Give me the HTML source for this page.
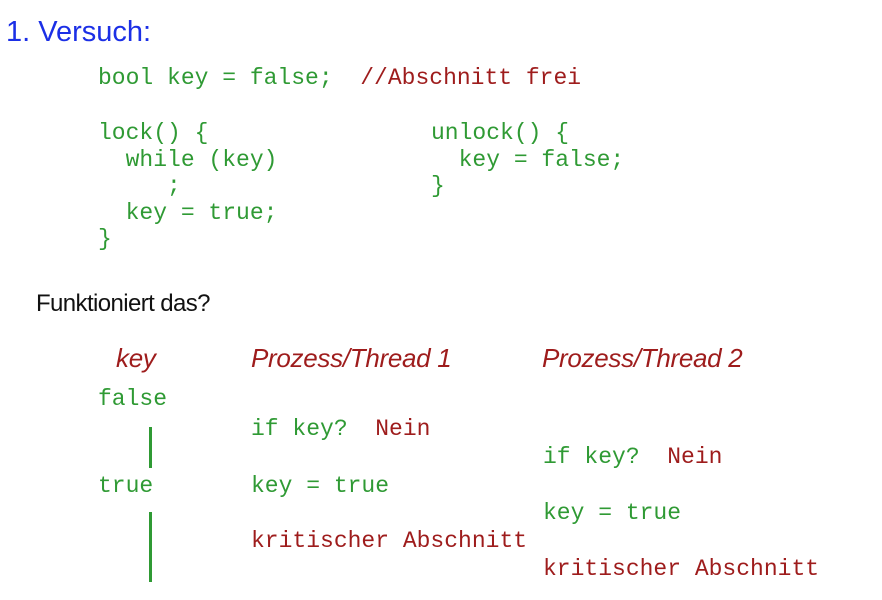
<!DOCTYPE html>
<html><head><meta charset="utf-8"><style>
body{margin:0;width:882px;height:600px;background:#fff;position:relative;overflow:hidden}
.t{position:absolute;white-space:pre;line-height:28px}
.m{font-family:"Liberation Mono",monospace;font-size:23px;color:#2f9a34}
.r{color:#9e1c1c}
.h{font-family:"Liberation Sans",sans-serif;font-style:italic;font-size:26px;color:#9e1c1c;letter-spacing:-0.3px}
.bar{position:absolute;left:149px;width:3px;background:#2f9a34}
</style></head><body>
<div class="t" style="left:6px;top:18px;font-family:'Liberation Sans',sans-serif;font-size:29px;color:#1b2fe6">1. Versuch:</div>
<div class="t m" style="left:98px;top:64px">bool key = false;  <span class="r">//Abschnitt frei</span></div>
<div class="t m" style="left:98px;top:120px;line-height:26.5px">lock() {
  while (key)
     ;
  key = true;
}</div>
<div class="t m" style="left:431px;top:120px;line-height:26.5px">unlock() {
  key = false;
}</div>
<div class="t" style="left:36px;top:290px;font-family:'Liberation Sans',sans-serif;font-size:24px;color:#111;letter-spacing:-0.6px">Funktioniert das?</div>
<div class="t h" style="left:116px;top:344px">key</div>
<div class="t h" style="left:251px;top:344px">Prozess/Thread 1</div>
<div class="t h" style="left:542px;top:344px">Prozess/Thread 2</div>
<div class="t m" style="left:98px;top:385px">false</div>
<div class="t m" style="left:251px;top:415px">if key?  <span class="r">Nein</span></div>
<div class="t m" style="left:543px;top:443px">if key?  <span class="r">Nein</span></div>
<div class="t m" style="left:98px;top:472px">true</div>
<div class="t m" style="left:251px;top:472px">key = true</div>
<div class="t m" style="left:543px;top:499px">key = true</div>
<div class="t m r" style="left:251px;top:527px">kritischer Abschnitt</div>
<div class="t m r" style="left:543px;top:555px">kritischer Abschnitt</div>
<div class="bar" style="top:427px;height:41px"></div>
<div class="bar" style="top:512px;height:70px"></div>
</body></html>
